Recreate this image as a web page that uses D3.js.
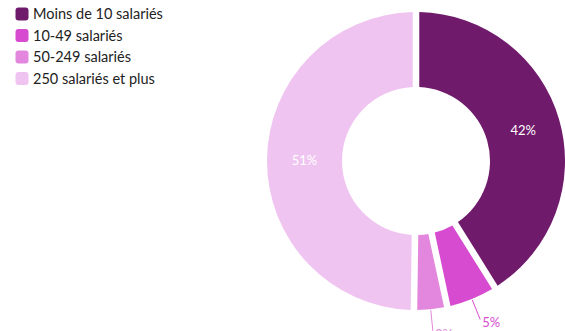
<!DOCTYPE html>
<html>
<head>
<meta charset="utf-8">
<script src="https://cdn.jsdelivr.net/npm/d3@7"></script>
<style>
  html, body { margin: 0; padding: 0; background: #fff; overflow: hidden; }
  svg { display: block; font-family: "Lato", "DejaVu Sans", sans-serif; }
</style>
</head>
<body>
<svg id="chart" width="565" height="331"></svg>
<script>
// Répartition par taille d'entreprise (en %)
const categories = ["Moins de 10 salariés", "10-49 salariés", "50-249 salariés", "250 salariés et plus"];
const values = [42, 5, 3, 51];
const colors = ["#6f1a6b", "#d74bd0", "#e287dd", "#f0c4f0"];

const W = 565, H = 331;
const cx = 416, cy = 161;
const outerR = 149, innerR = 74;

const svg = d3.select("#chart");

const color = d3.scaleOrdinal().domain(categories).range(colors);

const data = categories.map((c, i) => ({ cat: c, value: values[i] }));

const pie = d3.pie()
  .sort(null)
  .value(d => d.value)
  .padAngle(0.044);

const arc = d3.arc()
  .innerRadius(innerR)
  .outerRadius(outerR)
  .padRadius(outerR);

const arcs = pie(data);

const g = svg.append("g").attr("transform", `translate(${cx},${cy})`);

g.selectAll("path.slice")
  .data(arcs)
  .join("path")
  .attr("class", "slice")
  .attr("d", arc)
  .attr("fill", d => color(d.data.cat));

// Large slices: label at the centroid, in white
const inside = arcs.filter(d => d.data.value >= 10);
g.selectAll("text.inside")
  .data(inside)
  .join("text")
  .attr("class", "inside")
  .attr("transform", d => `translate(${arc.centroid(d)})`)
  .attr("text-anchor", "middle")
  .attr("dy", "0.35em")
  .attr("fill", "#fff")
  .style("font-size", "13px")
  .text(d => d.data.value + "%");

// Small slices: label outside with a connector line
const outside = arcs.filter(d => d.data.value < 10);
const pointAt = (a, r) => [Math.sin(a) * r, -Math.cos(a) * r];
const mid = d => (d.startAngle + d.endAngle) / 2;

g.selectAll("line.connector")
  .data(outside)
  .join("line")
  .attr("class", "connector")
  .attr("x1", d => pointAt(mid(d), outerR + 1)[0])
  .attr("y1", d => pointAt(mid(d), outerR + 1)[1])
  .attr("x2", d => pointAt(mid(d), outerR + 22)[0])
  .attr("y2", d => pointAt(mid(d), outerR + 22)[1])
  .attr("stroke", d => color(d.data.cat))
  .attr("stroke-width", 1);

g.selectAll("text.outside")
  .data(outside)
  .join("text")
  .attr("class", "outside")
  .attr("x", d => pointAt(mid(d), outerR + 22)[0] + 2)
  .attr("y", d => pointAt(mid(d), outerR + 22)[1] + 8)
  .attr("fill", d => color(d.data.cat))
  .style("font-size", "13px")
  .text(d => d.data.value + "%");

// Legend
const legend = svg.append("g").attr("transform", "translate(15,0)");
const rowY = d3.scalePoint().domain(categories).range([14, 78.5]);

const item = legend.selectAll("g.item")
  .data(categories)
  .join("g")
  .attr("class", "item")
  .attr("transform", d => `translate(0,${rowY(d)})`);

item.append("rect")
  .attr("x", 0.5)
  .attr("y", -6.5)
  .attr("width", 13)
  .attr("height", 13)
  .attr("rx", 3)
  .attr("fill", d => color(d));

item.append("text")
  .attr("x", 18)
  .attr("dy", "0.35em")
  .attr("fill", "#222")
  .style("font-size", "14.5px")
  .text(d => d);
</script>
</body>
</html>
